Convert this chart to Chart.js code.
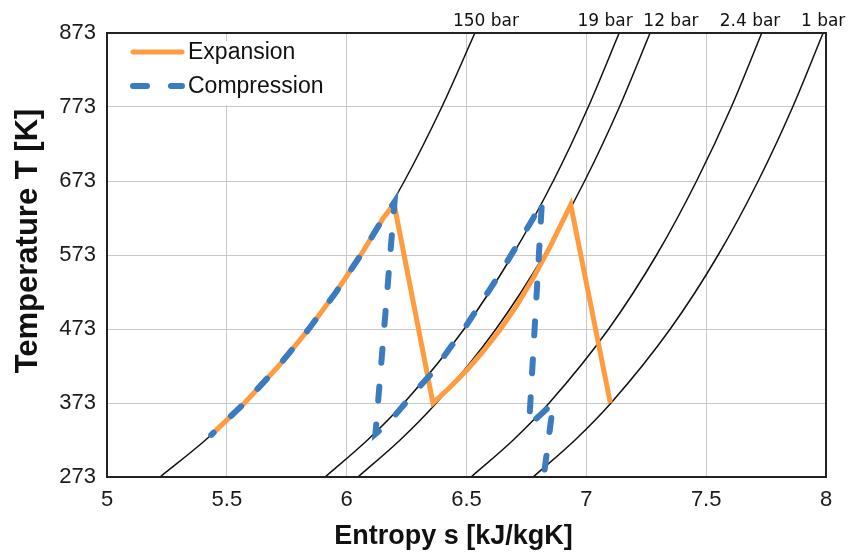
<!DOCTYPE html>
<html>
<head>
<meta charset="utf-8">
<script src="https://cdn.jsdelivr.net/npm/chart.js@4.4.0/dist/chart.umd.min.js"></script>
<style>
  html, body { margin: 0; padding: 0; background: #fff; }
</style>
</head>
<body>
<canvas id="chart" width="848" height="555"></canvas>
<script>
const isoT = [273, 323, 373, 473, 573, 673, 773, 873];
// entropy of each isobar at those temperatures
const iso150 = [5.221, 5.411, 5.574, 5.842, 6.059, 6.241, 6.397, 6.535];
const iso19 = [5.910, 6.087, 6.239, 6.490, 6.692, 6.862, 7.008, 7.137];
const iso12 = [6.047, 6.223, 6.374, 6.623, 6.824, 6.993, 7.138, 7.266];
const iso2_4 = [6.519, 6.695, 6.845, 7.093, 7.293, 7.460, 7.605, 7.732];
const iso1 = [6.778, 6.953, 7.103, 7.350, 7.550, 7.717, 7.861, 7.988];
const isoNames = ['150 bar', '19 bar', '12 bar', '2.4 bar', '1 bar'];

// expansion path
const expS = [5.435, 5.574, 5.716, 5.842, 5.956, 6.059, 6.153, 6.198, 6.360,
  6.430, 6.500, 6.570, 6.640, 6.710, 6.780, 6.850, 6.935, 7.100];
const expT = [330, 373, 423, 473, 523, 573, 623, 642, 373,
  394, 417, 443, 472, 505, 543, 585, 641, 373];

// compression path
const cmpS = [6.826, 6.862, 6.761, 6.815, 6.779, 6.640, 6.500, 6.354, 6.285, 6.174, 6.120,
  6.200, 6.153, 6.059, 5.956, 5.842, 5.716, 5.574, 5.435];
const cmpT = [283, 373, 343, 646, 623, 548, 478, 413, 388, 346, 331,
  645, 623, 573, 523, 473, 423, 373, 330];

const xTicks = [5, 5.5, 6, 6.5, 7, 7.5, 8];
const yTicks = [273, 373, 473, 573, 673, 773, 873];
const xTitle = 'Entropy s [kJ/kgK]';
const yTitle = 'Temperature T [K]';

const orange = '#FF9C40', blue = '#3B7BBF';

function pts(s, t) {
  return s.map((v, i) => ({ x: v, y: t[i] }));
}

const isobarSets = [iso150, iso19, iso12, iso2_4, iso1].map((arr, i) => ({
  label: isoNames[i],
  data: pts(arr, isoT),
  borderColor: '#111',
  borderWidth: 1.5,
  pointRadius: 0,
  showLine: true,
  cubicInterpolationMode: 'monotone',
  order: 3
}));

// label centres (entropy units) for the isobar names above the plot
const labelAt = [6.581, 7.078, 7.353, 7.683, 7.988];

const extras = {
  id: 'extras',
  beforeDatasetsDraw(chart) {
    const { ctx, chartArea: a } = chart;
    ctx.save();
    ctx.fillStyle = '#fff';
    ctx.fillRect(a.left + 16, a.top + 8, 215, 64);
    ctx.restore();
  },
  afterDraw(chart) {
    const { ctx, chartArea: a, scales } = chart;
    ctx.save();
    ctx.strokeStyle = '#222';
    ctx.lineWidth = 2;
    ctx.strokeRect(a.left, a.top, a.right - a.left, a.bottom - a.top);

    // legend
    const items = [chart.data.datasets[0], chart.data.datasets[1]];
    items.forEach((ds, i) => {
      const y = a.top + 19 + i * 34;
      ctx.beginPath();
      ctx.strokeStyle = ds.borderColor;
      ctx.lineWidth = ds.borderWidth;
      ctx.lineCap = 'round';
      ctx.setLineDash(ds.borderDash || []);
      ctx.moveTo(a.left + 26, y);
      ctx.lineTo(a.left + 75, y);
      ctx.stroke();
      ctx.setLineDash([]);
      ctx.fillStyle = '#111';
      ctx.font = '23px "Liberation Sans"';
      ctx.textBaseline = 'middle';
      ctx.textAlign = 'left';
      ctx.fillText(ds.label, a.left + 81, y + 1);
    });

    // isobar names
    ctx.font = '17px "DejaVu Sans"';
    ctx.fillStyle = '#111';
    ctx.textAlign = 'center';
    ctx.textBaseline = 'alphabetic';
    isoNames.forEach((n, i) => {
      ctx.fillText(n, scales.x.getPixelForValue(labelAt[i]), 26);
    });

    // axis titles (centred on the whole plot block, as in the source)
    ctx.textBaseline = 'middle';
    ctx.font = 'bold 27px "Liberation Sans"';
    ctx.fillText(xTitle, (a.left + a.right) / 2 - 13, 537);
    ctx.translate(28, (a.top + a.bottom) / 2 - 14);
    ctx.rotate(-Math.PI / 2);
    ctx.font = 'bold 31px "Liberation Sans"';
    ctx.fillText(yTitle, 0, 0);
    ctx.restore();
  }
};

new Chart(document.getElementById('chart'), {
  type: 'scatter',
  data: {
    datasets: [
      {
        label: 'Expansion',
        data: pts(expS, expT),
        borderColor: orange,
        borderWidth: 5,
        pointRadius: 0,
        showLine: true,
        borderJoinStyle: 'miter',
        order: 2
      },
      {
        label: 'Compression',
        data: pts(cmpS, cmpT),
        borderColor: blue,
        borderWidth: 6,
        borderDash: [14, 24],
        borderCapStyle: 'round',
        pointRadius: 0,
        showLine: true,
        order: 1
      },
      ...isobarSets
    ]
  },
  options: {
    responsive: false,
    animation: false,
    layout: { padding: { top: 33, right: 22, left: 0, bottom: 0 } },
    plugins: {
      legend: { display: false },
      tooltip: { enabled: false }
    },
    scales: {
      x: {
        type: 'linear',
        min: 5,
        max: 8,
        afterBuildTicks: s => { s.ticks = xTicks.map(v => ({ value: v })); },
        afterFit: s => { s.height = 78; },
        grid: { color: '#c8c8c8', lineWidth: 1, drawTicks: false },
        border: { display: false },
        ticks: {
          color: '#1a1a1a',
          padding: 10,
          maxRotation: 0,
          font: { family: 'Liberation Sans', size: 22 },
          callback: v => String(v)
        }
      },
      y: {
        type: 'linear',
        min: 273,
        max: 873,
        afterBuildTicks: s => { s.ticks = yTicks.map(v => ({ value: v })); },
        afterFit: s => { s.width = 107; },
        grid: { color: '#c8c8c8', lineWidth: 1, drawTicks: false },
        border: { display: false },
        ticks: {
          color: '#1a1a1a',
          padding: 11,
          font: { family: 'Liberation Sans', size: 22 }
        }
      }
    }
  },
  plugins: [extras]
});
</script>
</body>
</html>
